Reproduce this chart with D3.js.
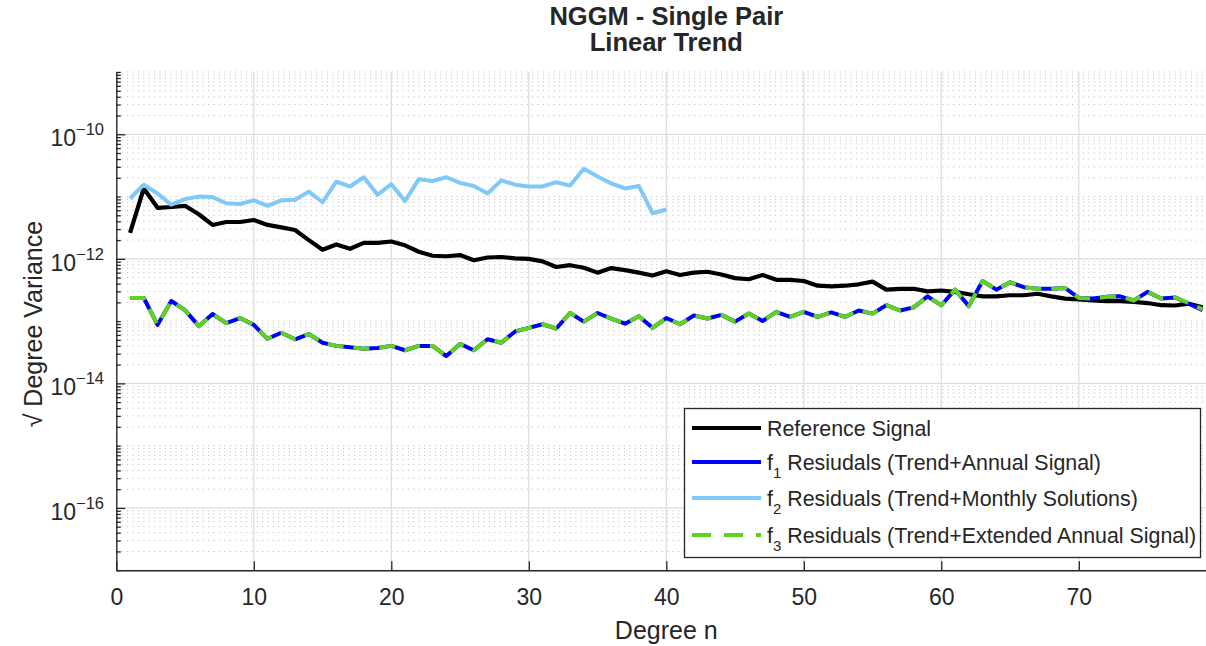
<!DOCTYPE html>
<html>
<head>
<meta charset="utf-8">
<script src="https://cdn.jsdelivr.net/npm/d3@7"></script>
<style>
  body { margin: 0; background: #fff; }
  svg { display: block; }
  text { font-family: "Liberation Sans", Arial, Helvetica, sans-serif; fill: #262626; }
</style>
</head>
<body>
<svg id="chart" width="1206" height="646"></svg>
<script>
// ---- data -------------------------------------------------------------
const titleLines = ["NGGM - Single Pair", "Linear Trend"];
const xLabel = "Degree n";
const yLabel = "\u221A Degree Variance";
const xTicks = [0, 10, 20, 30, 40, 50, 60, 70];
const yTickExponents = [-16, -14, -12, -10];

// spherical-harmonic degree n = 1 ... 79
const degrees = d3.range(1, 80);

// square-root degree variances
const reference = [
  2.6e-12, 1.35e-11, 6.6e-12, 6.8e-12, 7.1e-12, 5.2e-12, 3.5e-12, 3.9e-12, 3.9e-12, 4.2e-12,
  3.5e-12, 3.2e-12, 2.9e-12, 2.0e-12, 1.4e-12, 1.7e-12, 1.45e-12, 1.8e-12, 1.8e-12, 1.9e-12,
  1.65e-12, 1.3e-12, 1.12e-12, 1.1e-12, 1.15e-12, 9.5e-13, 1.05e-12, 1.07e-12, 1.02e-12, 1.0e-12,
  9.1e-13, 7.4e-13, 7.9e-13, 7.2e-13, 6.0e-13, 7.1e-13, 6.6e-13, 6.0e-13, 5.4e-13, 6.3e-13,
  5.5e-13, 6.0e-13, 6.2e-13, 5.6e-13, 4.9e-13, 4.7e-13, 5.5e-13, 4.6e-13, 4.6e-13, 4.4e-13,
  3.7e-13, 3.6e-13, 3.7e-13, 3.9e-13, 4.3e-13, 3.2e-13, 3.3e-13, 3.3e-13, 3.0e-13, 3.1e-13,
  2.95e-13, 2.7e-13, 2.5e-13, 2.5e-13, 2.6e-13, 2.6e-13, 2.75e-13, 2.5e-13, 2.3e-13, 2.24e-13,
  2.14e-13, 2.1e-13, 2.1e-13, 2.04e-13, 1.95e-13, 1.8e-13, 1.78e-13, 1.9e-13, 1.66e-13
];

const f1Residuals = [
  2.35e-13, 2.35e-13, 8.7e-14, 2.1e-13, 1.5e-13, 8.3e-14, 1.3e-13, 9.3e-14, 1.12e-13, 8.7e-14,
  5.2e-14, 6.5e-14, 5.1e-14, 6.2e-14, 4.5e-14, 4.0e-14, 3.8e-14, 3.6e-14, 3.7e-14, 4.0e-14,
  3.4e-14, 4.0e-14, 4.0e-14, 2.75e-14, 4.3e-14, 3.4e-14, 5.1e-14, 4.5e-14, 6.8e-14, 7.8e-14,
  8.9e-14, 7.6e-14, 1.35e-13, 9.8e-14, 1.35e-13, 1.1e-13, 9.1e-14, 1.2e-13, 7.8e-14, 1.12e-13,
  8.9e-14, 1.23e-13, 1.1e-13, 1.26e-13, 9.8e-14, 1.32e-13, 1.0e-13, 1.41e-13, 1.17e-13, 1.41e-13,
  1.17e-13, 1.38e-13, 1.17e-13, 1.48e-13, 1.32e-13, 1.8e-13, 1.48e-13, 1.66e-13, 2.5e-13, 1.8e-13,
  3.2e-13, 1.74e-13, 4.4e-13, 3.2e-13, 4.2e-13, 3.5e-13, 3.3e-13, 3.3e-13, 3.4e-13, 2.35e-13,
  2.3e-13, 2.45e-13, 2.5e-13, 2.14e-13, 2.95e-13, 2.3e-13, 2.4e-13, 1.9e-13, 1.5e-13
];

// f2 is only available up to degree 40
const f2Residuals = [
  9.3e-12, 1.55e-11, 1.12e-11, 7.4e-12, 9.1e-12, 1.0e-11, 9.8e-12, 7.8e-12, 7.6e-12, 8.7e-12,
  7.1e-12, 8.7e-12, 8.9e-12, 1.2e-11, 8.1e-12, 1.74e-11, 1.45e-11, 2.04e-11, 1.07e-11, 1.58e-11,
  8.5e-12, 1.9e-11, 1.78e-11, 2.04e-11, 1.66e-11, 1.48e-11, 1.12e-11, 1.82e-11, 1.55e-11, 1.45e-11,
  1.45e-11, 1.7e-11, 1.5e-11, 2.8e-11, 2.1e-11, 1.62e-11, 1.35e-11, 1.48e-11, 5.4e-12, 6.2e-12
];

const f3Residuals = [
  2.35e-13, 2.35e-13, 8.7e-14, 2.1e-13, 1.5e-13, 8.3e-14, 1.3e-13, 9.3e-14, 1.12e-13, 8.7e-14,
  5.2e-14, 6.5e-14, 5.1e-14, 6.2e-14, 4.5e-14, 4.0e-14, 3.8e-14, 3.6e-14, 3.7e-14, 4.0e-14,
  3.4e-14, 4.0e-14, 4.0e-14, 2.75e-14, 4.3e-14, 3.4e-14, 5.1e-14, 4.5e-14, 6.8e-14, 7.8e-14,
  8.9e-14, 7.6e-14, 1.35e-13, 9.8e-14, 1.35e-13, 1.1e-13, 9.1e-14, 1.2e-13, 7.8e-14, 1.12e-13,
  8.9e-14, 1.23e-13, 1.1e-13, 1.26e-13, 9.8e-14, 1.32e-13, 1.0e-13, 1.41e-13, 1.17e-13, 1.41e-13,
  1.17e-13, 1.38e-13, 1.17e-13, 1.48e-13, 1.32e-13, 1.8e-13, 1.48e-13, 1.66e-13, 2.5e-13, 1.8e-13,
  3.2e-13, 1.74e-13, 4.4e-13, 3.2e-13, 4.2e-13, 3.5e-13, 3.3e-13, 3.3e-13, 3.4e-13, 2.35e-13,
  2.3e-13, 2.45e-13, 2.5e-13, 2.14e-13, 2.95e-13, 2.3e-13, 2.4e-13, 1.95e-13, 1.55e-13
];

const seriesNames = ["reference", "f1", "f2", "f3"];

// ---- layout -----------------------------------------------------------
const svg = d3.select("#chart");
const plot = { left: 116.3, right: 1216.3, top: 72, bottom: 570.2 };
const axisColor = "#262626";

const x = d3.scaleLinear().domain([0, 80]).range([plot.left, plot.right]);
const y = d3.scaleLog().domain([1e-17, 1e-9]).range([plot.bottom, plot.top]);

const majorY = yTickExponents.map(e => Math.pow(10, e));
const minorY = [];
for (let e = -17; e <= -10; e++) {
  for (let m = 1; m <= 9; m++) {
    const v = m * Math.pow(10, e);
    if (m === 1 && yTickExponents.includes(e)) continue;
    minorY.push(v);
  }
}
minorY.push(1e-9);

// ---- grid -------------------------------------------------------------
const grid = svg.append("g");
grid.selectAll("line.minor").data(minorY).join("line")
  .attr("x1", plot.left).attr("x2", plot.right)
  .attr("y1", d => y(d)).attr("y2", d => y(d))
  .attr("stroke", "#b9b9b9").attr("stroke-width", 1)
  .attr("stroke-dasharray", "1,4.4");
grid.selectAll("line.hmajor").data(majorY).join("line")
  .attr("x1", plot.left).attr("x2", plot.right)
  .attr("y1", d => y(d)).attr("y2", d => y(d))
  .attr("stroke", "#dedede").attr("stroke-width", 1.3);
grid.selectAll("line.vmajor").data(xTicks.filter(d => d > 0)).join("line")
  .attr("x1", d => x(d)).attr("x2", d => x(d))
  .attr("y1", plot.top).attr("y2", plot.bottom)
  .attr("stroke", "#dedede").attr("stroke-width", 1.3);

// ---- series -----------------------------------------------------------
const line = d3.line().x(d => x(d[0])).y(d => y(d[1]));
const pairs = vals => vals.map((v, i) => [degrees[i], v]);

const styles = {
  reference: { color: "#000000", width: 4.2, dash: null },
  f1: { color: "#0000ff", width: 4, dash: null },
  f2: { color: "#80c8f7", width: 4, dash: null },
  f3: { color: "#5fd31e", width: 4, dash: "16,10" }
};
const seriesData = { reference, f1: f1Residuals, f2: f2Residuals, f3: f3Residuals };

const lines = svg.append("g");
seriesNames.forEach(name => {
  const s = styles[name];
  lines.append("path")
    .datum(pairs(seriesData[name]))
    .attr("d", line)
    .attr("fill", "none")
    .attr("stroke", s.color)
    .attr("stroke-width", s.width)
    .attr("stroke-linejoin", "round")
    .attr("stroke-dasharray", s.dash);
});

// ---- axes -------------------------------------------------------------
const xAxis = svg.append("g")
  .attr("transform", `translate(0,${plot.bottom})`)
  .call(d3.axisBottom(x).tickValues(xTicks).tickSizeInner(-9).tickSizeOuter(0).tickPadding(18));
xAxis.select(".domain").attr("stroke", axisColor).attr("stroke-width", 1.4);
xAxis.selectAll(".tick line").attr("stroke", axisColor).attr("stroke-width", 1.3);
xAxis.selectAll(".tick text")
  .attr("font-size", 23).attr("fill", "#262626")
  .attr("font-family", '"Liberation Sans", Arial, sans-serif');

const yMinorAxis = svg.append("g")
  .attr("transform", `translate(${plot.left},0)`)
  .call(d3.axisLeft(y).tickValues(minorY).tickSizeInner(-4.5).tickSizeOuter(0).tickFormat(""));
yMinorAxis.select(".domain").remove();
yMinorAxis.selectAll(".tick line").attr("stroke", axisColor).attr("stroke-width", 1.3);

const yAxis = svg.append("g")
  .attr("transform", `translate(${plot.left},0)`)
  .call(d3.axisLeft(y).tickValues(majorY).tickSizeInner(-9).tickSizeOuter(0).tickFormat(""));
yAxis.select(".domain").attr("stroke", axisColor).attr("stroke-width", 1.4);
yAxis.selectAll(".tick line").attr("stroke", axisColor).attr("stroke-width", 1.3);

// power-of-ten labels with superscript exponents
const yLabels = svg.append("g");
yTickExponents.forEach(e => {
  const t = yLabels.append("text")
    .attr("x", 104).attr("y", y(Math.pow(10, e)) + 12)
    .attr("text-anchor", "end").attr("font-size", 23);
  t.append("tspan").text("10");
  t.append("tspan").attr("dy", -11).attr("font-size", 16.5).text("\u2212" + Math.abs(e));
});

// ---- labels & title ---------------------------------------------------
svg.append("text")
  .attr("x", (plot.left + plot.right) / 2).attr("y", 639)
  .attr("text-anchor", "middle").attr("font-size", 25)
  .text(xLabel);

svg.append("text")
  .attr("transform", `translate(42,${(plot.top + plot.bottom) / 2 + 3}) rotate(-90)`)
  .attr("text-anchor", "middle").attr("font-size", 25)
  .text(yLabel);

titleLines.forEach((t, i) => {
  svg.append("text")
    .attr("x", (plot.left + plot.right) / 2).attr("y", 25 + i * 26)
    .attr("text-anchor", "middle").attr("font-size", 25.5).attr("font-weight", "bold")
    .attr("fill", "#000")
    .text(t);
});

// ---- legend -----------------------------------------------------------
const legendItems = [
  { key: "reference", main: "Reference Signal" },
  { key: "f1", sub: "1", main: " Resiudals (Trend+Annual Signal)" },
  { key: "f2", sub: "2", main: " Residuals (Trend+Monthly Solutions)" },
  { key: "f3", sub: "3", main: " Residuals (Trend+Extended Annual Signal)" }
];
const legendRowY = [428, 462, 498, 535];

const legend = svg.append("g");
legend.append("rect")
  .attr("x", 684.5).attr("y", 408.5).attr("width", 516).attr("height", 149)
  .attr("fill", "#fff").attr("stroke", axisColor).attr("stroke-width", 1.3);

legendItems.forEach((item, i) => {
  const s = styles[item.key];
  const ly = legendRowY[i];
  legend.append("line")
    .attr("x1", 692).attr("x2", 761).attr("y1", ly).attr("y2", ly)
    .attr("stroke", s.color).attr("stroke-width", s.width)
    .attr("stroke-dasharray", s.dash ? "19,13" : null);
  const t = legend.append("text")
    .attr("x", 767).attr("y", ly + 8).attr("font-size", 21.4);
  if (item.sub) {
    t.append("tspan").text("f");
    t.append("tspan").attr("dy", 8).attr("font-size", 15).text(item.sub);
    t.append("tspan").attr("dy", -8).text(item.main);
  } else {
    t.text(item.main);
  }
});
</script>
</body>
</html>
